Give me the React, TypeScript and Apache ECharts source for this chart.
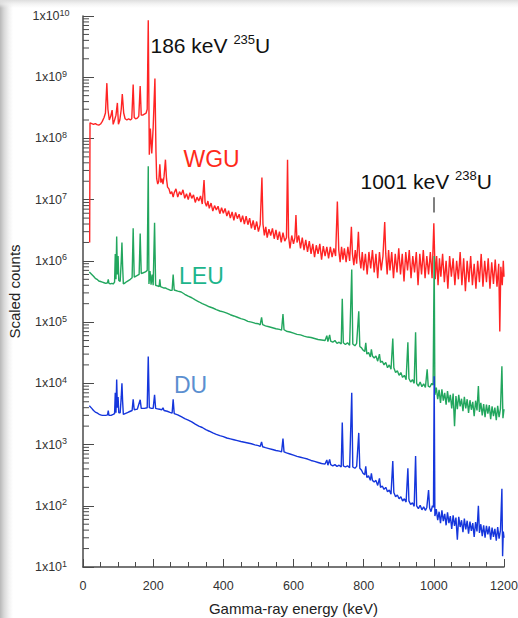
import React, { useEffect, useRef } from 'react';
import * as echarts from 'echarts';

const FONT = '"Liberation Sans", Arial, Helvetica, sans-serif';

// Gamma-ray energy axis (keV) and scaled-counts decades
const xTickInterval = 200;
const yDecadeMin = 10;
const yDecadeMax = 1e10;

// Weapons-grade uranium spectrum [energy keV, scaled counts]
const wgu: [number, number][] = [
  [19, 2.0e6], [20, 1.8e8], [25, 1.75e8], [30, 1.7e8], [35, 1.75e8], [40, 1.68e8], [45, 1.65e8], [50, 1.72e8],
  [55, 1.9e8], [60, 2.2e8], [64, 2.6e8], [68, 8.0e8], [71, 3.0e8], [75, 2.0e8], [79, 2.3e8], [83, 2.9e8],
  [86, 1.7e8], [90, 2.0e8], [94, 2.4e8], [98, 3.8e8], [101, 1.7e8], [105, 2.0e8], [109, 3.0e8], [112, 5.3e8],
  [116, 2.6e8], [120, 2.1e8], [125, 2.0e8], [130, 2.1e8], [135, 2.0e8], [139, 2.1e8], [143, 7.6e8], [146, 2.2e8],
  [150, 2.1e8], [155, 2.15e8], [159, 2.3e8], [163, 7.2e8], [166, 2.4e8], [170, 2.4e8], [175, 2.5e8], [180, 2.6e8],
  [183, 3.0e8], [186, 8.5e9], [189, 5.4e7], [192, 1.45e8], [196, 5.7e7], [200, 1.5e8], [205, 9.5e8], [208, 6.0e7],
  [210, 2.2e7], [213, 1.8e7], [216, 2.0e7], [219, 3.8e7], [222, 1.9e7], [225, 2.2e7], [228, 1.8e7], [231, 2.4e7],
  [235, 4.5e7], [238, 2.2e7], [241, 1.6e7], [245, 1.5e7], [249, 1.25e7], [253, 1.35e7], [257, 1.1e7],
  [260, 1.3e7], [265, 1.5e7], [270, 1.1e7], [275, 1.35e7], [280, 1.2e7], [285, 1.45e7], [290, 1.05e7], [295, 1.25e7],
  [300, 1.0e7], [305, 1.3e7], [310, 1.05e7], [315, 1.2e7], [320, 9.0e6], [325, 1.1e7], [330, 9.5e6], [335, 1.15e7],
  [340, 8.5e6], [345, 2.1e7], [348, 9.0e6], [352, 7.8e6], [356, 9.5e6], [360, 7.2e6], [365, 8.8e6], [370, 6.5e6],
  [375, 8.0e6], [380, 6.8e6], [385, 7.8e6], [390, 5.9e6], [395, 7.4e6], [400, 6.0e6], [405, 7.2e6], [410, 5.4e6],
  [415, 6.6e6], [420, 5.0e6], [425, 6.3e6], [430, 4.6e6], [435, 6.2e6], [440, 4.9e6], [445, 5.8e6], [450, 4.3e6],
  [455, 5.5e6], [460, 4.0e6], [465, 5.4e6], [470, 3.9e6], [475, 5.0e6], [480, 3.4e6], [485, 4.6e6], [490, 3.2e6],
  [495, 4.4e6], [500, 3.0e6], [505, 3.9e6], [510, 2.3e7], [513, 4.0e6], [517, 2.6e6], [521, 3.6e6], [525, 2.4e6],
  [530, 3.3e6], [535, 2.6e6], [540, 3.4e6], [545, 2.3e6], [550, 3.2e6], [555, 2.2e6], [560, 3.0e6], [565, 2.0e6],
  [570, 2.9e6], [575, 2.1e6], [580, 2.4e6], [583, 4.5e7], [586, 2.5e6], [590, 1.6e6], [595, 2.6e6], [600, 1.9e6],
  [604, 2.4e6], [607, 5.6e6], [610, 2.0e6], [615, 2.6e6], [620, 1.6e6], [625, 2.4e6], [630, 1.5e6], [635, 2.2e6],
  [640, 1.4e6], [645, 2.1e6], [650, 1.3e6], [655, 1.9e6], [660, 1.15e6], [665, 1.8e6], [670, 1.3e6], [675, 1.9e6],
  [680, 1.05e6], [685, 1.75e6], [690, 1.2e6], [695, 1.7e6], [700, 1.1e6], [705, 1.7e6], [710, 1.15e6], [715, 1.6e6],
  [720, 1.2e6], [725, 9.3e6], [729, 1.5e6], [733, 9.5e5], [737, 1.7e6], [741, 1.05e6], [745, 1.6e6], [750, 9.5e5],
  [755, 1.7e6], [760, 1.0e6], [765, 3.6e6], [768, 1.3e6], [772, 8.5e5], [776, 1.5e6], [780, 9.0e5], [785, 3.0e6],
  [788, 1.2e6], [792, 7.5e5], [796, 1.4e6], [800, 7.0e5], [805, 1.3e6], [810, 6.0e5], [815, 1.4e6], [820, 7.5e5],
  [825, 1.5e6], [830, 6.5e5], [835, 1.3e6], [840, 5.2e5], [845, 1.4e6], [850, 7.0e5], [855, 1.2e6], [860, 4.3e6],
  [863, 1.3e6], [867, 6.0e5], [871, 1.5e6], [875, 7.0e5], [880, 1.4e6], [885, 5.2e5], [890, 1.3e6], [895, 6.5e5],
  [900, 1.6e6], [905, 6.0e5], [910, 1.3e6], [915, 4.6e5], [920, 1.4e6], [925, 7.0e5], [930, 1.5e6], [935, 5.2e5],
  [940, 1.2e6], [945, 6.5e5], [950, 1.4e6], [955, 4.0e5], [960, 1.3e6], [965, 6.0e5], [970, 1.5e6], [975, 5.2e5],
  [980, 1.2e6], [985, 6.0e5], [990, 1.4e6], [995, 5.2e5], [1000, 4.1e6], [1004, 5.0e5], [1008, 1.2e6], [1012, 4.0e5],
  [1016, 1.1e6], [1020, 5.5e5], [1025, 1.3e6], [1030, 4.5e5], [1035, 1.0e6], [1040, 3.5e5], [1045, 1.2e6], [1050, 5.5e5],
  [1055, 1.1e6], [1060, 4.0e5], [1065, 1.0e6], [1070, 5.0e5], [1075, 1.4e6], [1080, 4.0e5], [1085, 1.1e6], [1090, 3.2e5],
  [1095, 1.0e6], [1100, 4.5e5], [1105, 1.2e6], [1110, 4.0e5], [1115, 9.0e5], [1120, 3.5e5], [1125, 1.0e6], [1130, 4.5e5],
  [1135, 1.3e6], [1140, 3.8e5], [1145, 1.0e6], [1150, 4.5e5], [1155, 1.1e6], [1160, 3.5e5], [1165, 9.5e5], [1170, 4.2e5],
  [1175, 1.05e6], [1180, 3.8e5], [1185, 9.0e5], [1188, 7.0e4], [1191, 8.0e5], [1195, 4.0e5], [1198, 1.0e6], [1200, 5.5e5],
];

// Low-enriched uranium spectrum
const leu: [number, number][] = [
  [18, 6.6e5], [25, 6.0e5], [30, 5.6e5], [35, 5.2e5], [40, 5.0e5], [45, 4.7e5], [50, 4.6e5], [55, 4.5e5],
  [60, 4.4e5], [65, 4.3e5], [70, 4.4e5], [72, 5.0e5], [74, 4.3e5], [78, 4.2e5], [82, 4.3e5], [86, 4.2e5],
  [90, 4.5e5], [92, 1.3e6], [94, 5.0e5], [96, 2.5e6], [98, 6.0e5], [100, 1.2e6], [102, 4.8e5], [106, 4.6e5],
  [109, 1.0e6], [111, 2.0e6], [113, 8.0e5], [115, 4.2e5], [118, 4.3e5], [125, 4.6e5], [135, 5.0e5], [140, 5.3e5],
  [143, 3.4e6], [146, 5.4e5], [150, 5.6e5], [155, 5.8e5], [160, 6.0e5], [163, 2.8e6], [166, 6.2e5], [172, 6.4e5],
  [178, 6.6e5], [183, 7.0e5], [186, 3.5e7], [188, 4.2e5], [191, 6.8e5], [194, 4.1e5], [197, 6.0e5], [200, 4.0e5],
  [204, 4.2e6], [207, 4.0e5], [212, 3.9e5], [217, 3.8e5], [219, 5.0e5], [221, 3.8e5], [226, 3.7e5], [231, 3.6e5],
  [236, 3.6e5], [240, 3.5e5], [245, 3.4e5], [250, 3.3e5], [254, 3.3e5], [257, 6.0e5], [260, 3.35e5],
  [270, 3.2e5], [280, 3.1e5], [290, 2.85e5], [300, 2.65e5], [310, 2.5e5], [320, 2.3e5], [330, 2.15e5], [340, 2.0e5],
  [350, 1.9e5], [360, 1.78e5], [370, 1.7e5], [380, 1.6e5], [390, 1.52e5], [400, 1.47e5], [410, 1.4e5], [420, 1.32e5],
  [430, 1.26e5], [440, 1.2e5], [450, 1.14e5], [460, 1.1e5], [470, 1.03e5], [480, 1.0e5], [490, 9.6e4], [500, 9.4e4],
  [505, 9.0e4], [509, 1.2e5], [512, 9.1e4], [520, 8.7e4], [530, 8.4e4], [540, 8.1e4], [550, 7.8e4], [560, 7.6e4],
  [566, 7.4e4], [570, 1.35e5], [573, 7.5e4], [580, 7.1e4], [590, 6.9e4], [600, 6.6e4], [610, 6.3e4], [620, 6.2e4],
  [630, 5.9e4], [640, 5.7e4], [650, 5.6e4], [660, 5.4e4], [670, 5.2e4], [680, 5.1e4], [690, 5.0e4], [695, 6.0e4],
  [698, 4.8e4], [703, 6.2e4], [706, 4.9e4], [712, 4.7e4], [718, 5.0e4], [724, 4.5e4], [730, 4.7e4], [736, 4.4e4],
  [739, 2.4e5], [742, 4.6e4], [748, 4.3e4], [754, 4.6e4], [760, 4.2e4], [766, 7.2e5], [769, 4.4e4], [775, 4.1e4],
  [780, 4.5e4], [786, 1.5e5], [789, 4.0e4], [794, 3.8e4], [798, 3.5e4], [803, 3.3e4], [806, 4.6e4], [809, 3.0e4],
  [814, 3.2e4], [819, 2.7e4], [822, 3.6e4], [825, 2.8e4], [830, 2.6e4], [835, 2.8e4], [840, 2.3e4], [845, 3.0e4],
  [848, 2.2e4], [853, 2.3e4], [858, 2.0e4], [863, 2.2e4], [868, 1.8e4], [873, 2.0e4], [878, 1.7e4], [883, 5.4e4],
  [886, 1.8e4], [891, 1.5e4], [896, 1.6e4], [901, 1.35e4], [906, 1.5e4], [911, 1.25e4], [916, 1.35e4], [921, 1.15e4],
  [926, 4.7e4], [929, 1.2e4], [934, 1.05e4], [939, 1.15e4], [944, 1.0e4], [948, 6.8e4], [951, 1.0e4], [956, 9.0e3],
  [961, 1.05e4], [966, 8.8e3], [971, 9.8e3], [976, 8.6e3], [981, 1.7e4], [984, 9.0e3], [989, 8.7e3], [994, 1.0e4],
  [998, 9.4e3], [1001, 1.2e6], [1003, 6.5e3], [1007, 8.5e3], [1011, 5.5e3], [1015, 7.8e3], [1019, 4.8e3], [1023, 8.0e3],
  [1027, 5.2e3], [1031, 7.0e3], [1035, 4.5e3], [1039, 7.5e3], [1043, 4.9e3], [1047, 6.5e3], [1051, 3.9e3], [1055, 6.8e3],
  [1059, 2.0e3], [1063, 6.2e3], [1067, 3.8e3], [1071, 6.5e3], [1075, 4.2e3], [1079, 5.6e3], [1083, 3.5e3], [1087, 6.0e3],
  [1091, 3.9e3], [1095, 5.5e3], [1099, 3.3e3], [1103, 5.3e3], [1107, 3.7e3], [1111, 5.0e3], [1115, 2.9e3], [1119, 5.2e3],
  [1123, 3.6e3], [1127, 9.0e3], [1130, 3.4e3], [1134, 4.8e3], [1138, 3.0e3], [1142, 4.6e3], [1146, 2.8e3], [1150, 4.5e3],
  [1154, 3.2e3], [1158, 4.4e3], [1162, 2.6e3], [1166, 4.2e3], [1170, 2.9e3], [1174, 4.0e3], [1178, 2.5e3], [1182, 4.3e3],
  [1186, 2.8e3], [1190, 3.9e3], [1194, 1.9e4], [1197, 2.7e3], [1200, 3.8e3],
];

// Depleted uranium spectrum
const du: [number, number][] = [
  [18, 4.3e3], [25, 3.9e3], [30, 3.6e3], [35, 3.4e3], [40, 3.3e3], [45, 3.15e3], [50, 3.05e3], [55, 3.0e3],
  [60, 3.0e3], [65, 3.0e3], [70, 3.05e3], [72, 3.6e3], [74, 3.0e3], [80, 3.0e3], [86, 3.1e3], [90, 3.2e3],
  [92, 7.0e3], [94, 3.3e3], [96, 1.15e4], [98, 4.0e3], [100, 6.0e3], [102, 3.3e3], [106, 3.3e3], [109, 6.0e3],
  [111, 1.0e4], [113, 5.0e3], [115, 3.1e3], [120, 3.2e3], [130, 3.4e3], [140, 3.6e3], [143, 5.5e3], [146, 3.7e3],
  [155, 3.8e3], [163, 5.4e3], [166, 3.9e3], [175, 3.9e3], [183, 4.0e3], [186, 2.75e4], [189, 4.0e3], [195, 3.9e3],
  [200, 3.9e3], [204, 6.5e3], [207, 3.9e3], [215, 3.8e3], [225, 3.7e3], [228, 4.0e3], [231, 3.6e3], [240, 3.5e3],
  [248, 3.35e3], [254, 3.25e3], [257, 5.5e3], [260, 3.2e3],
  [270, 3.05e3], [280, 2.85e3], [290, 2.65e3], [300, 2.5e3], [310, 2.35e3], [320, 2.15e3], [330, 2.0e3], [340, 1.9e3],
  [350, 1.75e3], [360, 1.65e3], [370, 1.55e3], [380, 1.47e3], [390, 1.4e3], [400, 1.35e3], [410, 1.28e3], [420, 1.24e3],
  [430, 1.2e3], [440, 1.16e3], [450, 1.12e3], [460, 1.09e3], [470, 1.06e3], [480, 1.03e3], [490, 9.9e2], [500, 9.6e2],
  [505, 9.3e2], [509, 1.1e3], [512, 9.2e2], [520, 8.9e2], [530, 8.6e2], [540, 8.3e2], [550, 8.0e2], [560, 7.8e2],
  [566, 7.6e2], [570, 1.25e3], [573, 7.6e2], [580, 7.3e2], [590, 7.0e2], [600, 6.7e2], [610, 6.4e2], [620, 6.2e2],
  [630, 6.0e2], [640, 5.8e2], [650, 5.5e2], [660, 5.3e2], [670, 5.1e2], [680, 4.9e2], [690, 4.8e2], [695, 5.6e2],
  [698, 4.6e2], [703, 5.7e2], [706, 4.7e2], [712, 4.5e2], [718, 4.7e2], [724, 4.4e2], [730, 4.6e2], [736, 4.3e2],
  [739, 2.3e3], [742, 4.5e2], [748, 4.3e2], [754, 4.5e2], [760, 4.2e2], [766, 7.0e3], [769, 4.3e2], [775, 4.1e2],
  [780, 4.4e2], [786, 1.55e3], [789, 4.1e2], [794, 3.8e2], [798, 3.4e2], [803, 3.2e2], [806, 4.4e2], [809, 2.9e2],
  [814, 3.1e2], [819, 2.6e2], [822, 3.4e2], [825, 2.6e2], [830, 2.45e2], [835, 2.6e2], [840, 2.15e2], [845, 2.8e2],
  [848, 2.0e2], [853, 2.1e2], [858, 1.85e2], [863, 2.0e2], [868, 1.7e2], [873, 1.8e2], [878, 1.55e2], [883, 5.4e2],
  [886, 1.65e2], [891, 1.4e2], [896, 1.5e2], [901, 1.3e2], [906, 1.4e2], [911, 1.2e2], [916, 1.3e2], [921, 1.15e2],
  [926, 4.1e2], [929, 1.2e2], [934, 1.05e2], [939, 1.12e2], [944, 98], [948, 6.5e2], [951, 100], [956, 90],
  [961, 102], [966, 86], [971, 96], [976, 84], [980, 94], [985, 1.8e2], [988, 92], [992, 80],
  [996, 100], [999, 95], [1001, 1.3e4], [1003, 68], [1007, 88], [1011, 58], [1015, 80], [1019, 52],
  [1023, 84], [1027, 56], [1031, 74], [1035, 48], [1039, 78], [1043, 52], [1047, 68], [1051, 42],
  [1055, 70], [1059, 47], [1063, 64], [1067, 28], [1071, 66], [1075, 45], [1079, 58], [1083, 37],
  [1087, 62], [1091, 41], [1095, 57], [1099, 35], [1103, 55], [1107, 39], [1111, 52], [1115, 31],
  [1119, 54], [1123, 38], [1127, 100], [1130, 36], [1134, 50], [1138, 32], [1142, 48], [1146, 30],
  [1150, 47], [1154, 34], [1158, 46], [1162, 28], [1166, 44], [1170, 31], [1174, 42], [1178, 27],
  [1182, 45], [1186, 29], [1190, 40], [1194, 190], [1196, 15], [1198, 38], [1200, 30],
];

// Small vertical marker above the 1001 keV line
const marker1001: [number, number][] = [[1001, 1.1e7], [1001, 6.2e6]];

const seriesNames = ['WGU', 'LEU', 'DU'];
const lineColors = ['#ff2424', '#22a65e', '#1536dc'];
const labelColors = ['#ff2a1a', '#1db58c', '#5b8fd0'];

export default function App() {
  const ref = useRef<HTMLDivElement>(null);

  useEffect(() => {
    if (!ref.current) return;
    const chart = echarts.init(ref.current, undefined, { renderer: 'svg' });

    const minorY: [number, number][] = [];
    for (let e = 1; e < 10; e++) {
      for (let m = 2; m <= 9; m++) minorY.push([0, m * Math.pow(10, e)]);
    }

    const axisColor = '#4a4a4a';

    chart.setOption({
      animation: false,
      backgroundColor: 'transparent',
      grid: { left: 83, right: 14, top: 16, bottom: 51, containLabel: false, outerBoundsMode: 'none' },
      xAxis: {
        type: 'value',
        min: 0,
        max: 1200,
        interval: xTickInterval,
        name: 'Gamma-ray energy (keV)',
        nameLocation: 'middle',
        nameGap: 34,
        nameTextStyle: { fontSize: 15, color: '#222', fontFamily: FONT },
        axisLine: { show: true, lineStyle: { color: axisColor, width: 1.5 } },
        axisTick: { show: true, inside: true, length: 8, lineStyle: { color: axisColor, width: 1 } },
        minorTick: { show: true, splitNumber: 4, length: 5, lineStyle: { color: axisColor, width: 1 } },
        axisLabel: {
          margin: 12, fontSize: 12.5, color: '#333', fontFamily: FONT,
          formatter: (v: number) => String(v),
        },
        splitLine: { show: false },
      },
      yAxis: {
        type: 'log',
        logBase: 10,
        min: yDecadeMin,
        max: yDecadeMax,
        interval: 1,
        name: 'Scaled counts',
        nameLocation: 'middle',
        nameGap: 57,
        nameTextStyle: { fontSize: 15, color: '#222', fontFamily: FONT },
        axisLine: { show: true, lineStyle: { color: axisColor, width: 1.5 } },
        axisTick: { show: true, inside: true, length: 11, lineStyle: { color: axisColor, width: 1 } },
        minorTick: { show: false },
        splitLine: { show: false },
        axisLabel: {
          margin: 32,
          align: 'center',
          formatter: (v: number) => `{b|1x10}{s|${Math.round(Math.log10(v))}}`,
          rich: {
            b: { fontSize: 12.5, lineHeight: 16, color: '#333', fontFamily: FONT },
            s: { fontSize: 9, lineHeight: 10, verticalAlign: 'top', color: '#333', fontFamily: FONT },
          },
        },
      },
      series: [
        {
          name: seriesNames[0], type: 'line', data: wgu, showSymbol: false, symbol: 'none',
          lineStyle: { color: lineColors[0], width: 1.4 }, z: 2,
          markLine: {
            silent: true, symbol: 'none', label: { show: false },
            lineStyle: { color: '#555', width: 1.5, type: 'solid' },
            data: [[{ coord: marker1001[0] }, { coord: marker1001[1] }]],
          },
        },
        {
          name: seriesNames[1], type: 'line', data: leu, showSymbol: false, symbol: 'none',
          lineStyle: { color: lineColors[1], width: 1.4 }, z: 3,
        },
        {
          name: seriesNames[2], type: 'line', data: du, showSymbol: false, symbol: 'none',
          lineStyle: { color: lineColors[2], width: 1.4 }, z: 4,
        },
        {
          type: 'custom',
          silent: true,
          data: minorY,
          encode: { x: 0, y: 1 },
          z: 5,
          renderItem: (_p: any, api: any) => {
            const pt = api.coord([0, api.value(1)]);
            return {
              type: 'line',
              shape: { x1: pt[0], y1: pt[1], x2: pt[0] + 6, y2: pt[1] },
              style: { stroke: axisColor, lineWidth: 1 },
            };
          },
        },
      ],
      graphic: [
        {
          type: 'text', x: 150.5, y: 45.5, silent: true,
          style: {
            text: '{a|186 keV }{s|235}{a|U}', align: 'left', verticalAlign: 'middle',
            rich: {
              a: { fontSize: 21, lineHeight: 26, fill: '#111', fontFamily: FONT },
              s: { fontSize: 13, lineHeight: 14, verticalAlign: 'top', fill: '#111', fontFamily: FONT },
            },
          },
        },
        {
          type: 'text', x: 360.5, y: 181.5, silent: true,
          style: {
            text: '{a|1001 keV }{s|238}{a|U}', align: 'left', verticalAlign: 'middle',
            rich: {
              a: { fontSize: 21, lineHeight: 26, fill: '#111', fontFamily: FONT },
              s: { fontSize: 13, lineHeight: 14, verticalAlign: 'top', fill: '#111', fontFamily: FONT },
            },
          },
        },
        {
          type: 'text', x: 183.5, y: 158.5, silent: true,
          style: { text: seriesNames[0], fill: labelColors[0], fontSize: 23, fontFamily: FONT, align: 'left', verticalAlign: 'middle' },
        },
        {
          type: 'text', x: 179, y: 276, silent: true,
          style: { text: seriesNames[1], fill: labelColors[1], fontSize: 23, fontFamily: FONT, align: 'left', verticalAlign: 'middle' },
        },
        {
          type: 'text', x: 174, y: 384.5, silent: true,
          style: { text: seriesNames[2], fill: labelColors[2], fontSize: 23, fontFamily: FONT, align: 'left', verticalAlign: 'middle' },
        },
      ],
    });

    return () => chart.dispose();
  }, []);

  return (
    <div
      style={{
        position: 'absolute',
        left: 0,
        top: 0,
        width: 518,
        height: 618,
        background:
          'linear-gradient(to bottom, rgba(222,222,222,1) 0px, rgba(238,238,238,0.7) 4px, rgba(255,255,255,0) 8px), linear-gradient(to right, #b8b8b8 0px, #d8d8d8 4px, #f2f2f2 9px, #ffffff 13px)',
      }}
    >
      <div ref={ref} style={{ width: 518, height: 618 }} />
    </div>
  );
}
